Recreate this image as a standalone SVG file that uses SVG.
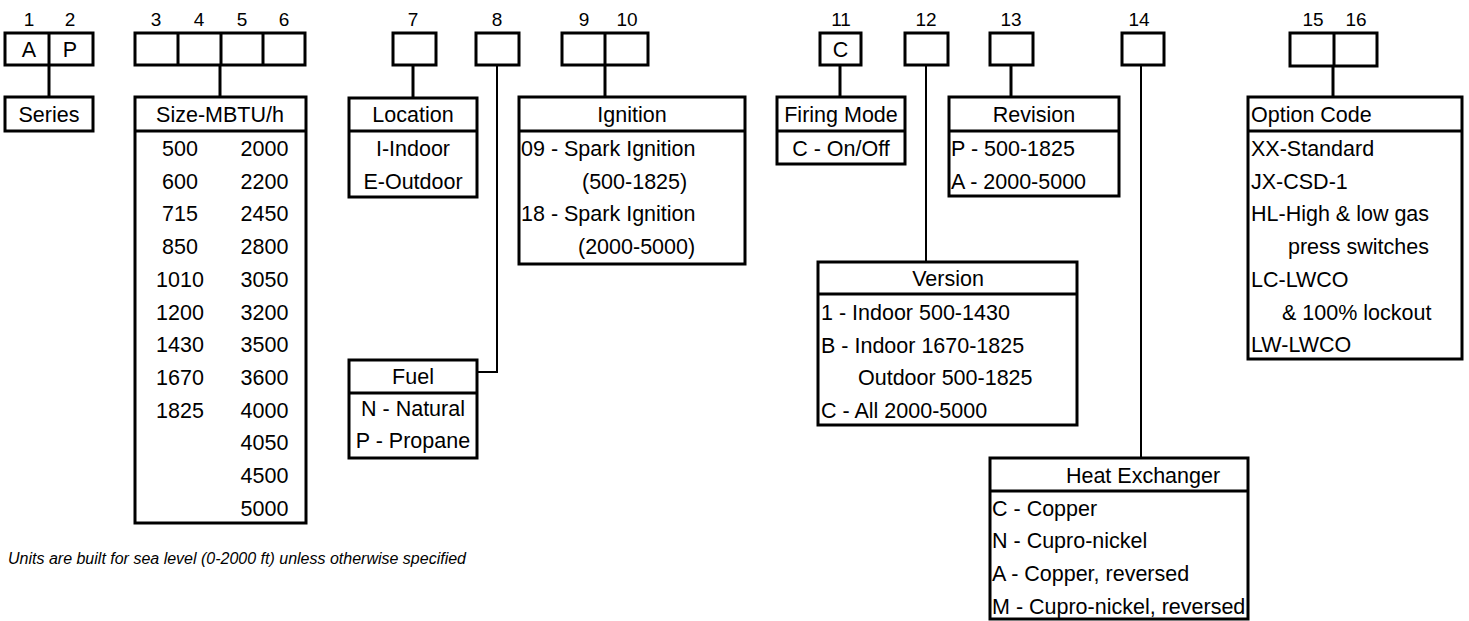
<svg xmlns="http://www.w3.org/2000/svg" width="1469" height="621" viewBox="0 0 1469 621">
<style>
.b{fill:#fff;stroke:#000;stroke-width:3}
.d{stroke:#000;stroke-width:3;fill:none}
.c1{stroke:#000;stroke-width:3;fill:none}
.c2{stroke:#000;stroke-width:2;fill:none}
text{font-family:"Liberation Sans",Arial,sans-serif;font-size:21.5px;fill:#000}
.m{text-anchor:middle}
.n{font-size:19px;text-anchor:middle}
.note{font-size:16px;font-style:italic}
</style>
<rect width="1469" height="621" fill="#fff"/>
<g id="connectors">
<line class="c1" x1="49" y1="65" x2="49" y2="97"/>
<line class="c1" x1="220" y1="65" x2="220" y2="97"/>
<line class="c1" x1="413" y1="65" x2="413" y2="98"/>
<polyline class="c2" points="497,65 497,372 477,372"/>
<line class="c1" x1="605" y1="65" x2="605" y2="97"/>
<line class="c1" x1="840" y1="65" x2="840" y2="97"/>
<line class="c2" x1="926" y1="65" x2="926" y2="262"/>
<line class="c1" x1="1011" y1="65" x2="1011" y2="97"/>
<line class="c2" x1="1141" y1="65" x2="1141" y2="458"/>
<line class="c1" x1="1333" y1="66" x2="1333" y2="97"/>
</g>
<g id="labels">
<text class="n" x="29" y="26">1</text>
<text class="n" x="70" y="26">2</text>
<text class="n" x="156" y="26">3</text>
<text class="n" x="199" y="26">4</text>
<text class="n" x="242" y="26">5</text>
<text class="n" x="284" y="26">6</text>
<text class="n" x="413" y="26">7</text>
<text class="n" x="497" y="26">8</text>
<text class="n" x="584" y="26">9</text>
<text class="n" x="627" y="26">10</text>
<text class="n" x="841" y="26">11</text>
<text class="n" x="926" y="26">12</text>
<text class="n" x="1011" y="26">13</text>
<text class="n" x="1139" y="26">14</text>
<text class="n" x="1313" y="26">15</text>
<text class="n" x="1356" y="26">16</text>
</g>
<g id="code-1-2">
<rect class="b" x="5" y="33" width="88" height="32"/>
<line class="d" x1="49" y1="33" x2="49" y2="65"/>
<text class="m" x="29" y="56.5">A</text>
<text class="m" x="70" y="56.5">P</text>
</g>
<g id="code-3-6">
<rect class="b" x="135" y="33" width="170" height="32"/>
<line class="d" x1="178" y1="33" x2="178" y2="65"/>
<line class="d" x1="221" y1="33" x2="221" y2="65"/>
<line class="d" x1="263" y1="33" x2="263" y2="65"/>
</g>
<g id="code-7"><rect class="b" x="393" y="33" width="43" height="32"/></g>
<g id="code-8"><rect class="b" x="476" y="33" width="43" height="32"/></g>
<g id="code-9-10">
<rect class="b" x="562" y="33" width="86" height="32"/>
<line class="d" x1="605" y1="33" x2="605" y2="65"/>
</g>
<g id="code-11">
<rect class="b" x="820" y="33" width="41" height="32"/>
<text class="m" x="840.5" y="56.5">C</text>
</g>
<g id="code-12"><rect class="b" x="905" y="33" width="43" height="32"/></g>
<g id="code-13"><rect class="b" x="990" y="33" width="43" height="32"/></g>
<g id="code-14"><rect class="b" x="1122" y="33" width="42" height="32"/></g>
<g id="code-15-16">
<rect class="b" x="1290" y="33" width="87" height="33"/>
<line class="d" x1="1334" y1="33" x2="1334" y2="66"/>
</g>

<g id="series">
<rect class="b" x="5" y="97" width="88" height="34"/>
<text class="m" x="49" y="121.5">Series</text>
</g>
<g id="size">
<rect class="b" x="135" y="97" width="171" height="426"/>
<line class="d" x1="135" y1="131" x2="306" y2="131"/>
<text class="m" x="220" y="121.5">Size-MBTU/h</text>
<text class="m" x="180" y="156">500</text>
<text class="m" x="180" y="188.7">600</text>
<text class="m" x="180" y="221.4">715</text>
<text class="m" x="180" y="254.1">850</text>
<text class="m" x="180" y="286.8">1010</text>
<text class="m" x="180" y="319.5">1200</text>
<text class="m" x="180" y="352.2">1430</text>
<text class="m" x="180" y="384.9">1670</text>
<text class="m" x="180" y="417.6">1825</text>
<text class="m" x="264.5" y="156">2000</text>
<text class="m" x="264.5" y="188.7">2200</text>
<text class="m" x="264.5" y="221.4">2450</text>
<text class="m" x="264.5" y="254.1">2800</text>
<text class="m" x="264.5" y="286.8">3050</text>
<text class="m" x="264.5" y="319.5">3200</text>
<text class="m" x="264.5" y="352.2">3500</text>
<text class="m" x="264.5" y="384.9">3600</text>
<text class="m" x="264.5" y="417.6">4000</text>
<text class="m" x="264.5" y="450.3">4050</text>
<text class="m" x="264.5" y="483">4500</text>
<text class="m" x="264.5" y="515.7">5000</text>
</g>
<g id="location">
<rect class="b" x="349" y="98" width="128" height="99"/>
<line class="d" x1="349" y1="131" x2="477" y2="131"/>
<text class="m" x="413" y="121.5">Location</text>
<text class="m" x="413" y="156">I-Indoor</text>
<text class="m" x="413" y="188.7">E-Outdoor</text>
</g>
<g id="fuel">
<rect class="b" x="349" y="360" width="128" height="98"/>
<line class="d" x1="349" y1="393" x2="477" y2="393"/>
<text class="m" x="413" y="383.5">Fuel</text>
<text class="m" x="413" y="415.5">N - Natural</text>
<text class="m" x="413" y="447.5">P - Propane</text>
</g>
<g id="ignition">
<rect class="b" x="519" y="97" width="226" height="167"/>
<line class="d" x1="519" y1="131" x2="745" y2="131"/>
<text class="m" x="632" y="121.5">Ignition</text>
<text x="521" y="156">09 - Spark Ignition</text>
<text x="582" y="188.7">(500-1825)</text>
<text x="521" y="221.4">18 - Spark Ignition</text>
<text x="578" y="254.1">(2000-5000)</text>
</g>
<g id="firing-mode">
<rect class="b" x="777" y="97" width="128" height="67"/>
<line class="d" x1="777" y1="131" x2="905" y2="131"/>
<text class="m" x="841" y="121.5">Firing Mode</text>
<text class="m" x="841" y="156">C - On/Off</text>
</g>
<g id="revision">
<rect class="b" x="949" y="97" width="170" height="99"/>
<line class="d" x1="949" y1="131" x2="1119" y2="131"/>
<text class="m" x="1034" y="121.5">Revision</text>
<text x="951" y="156">P - 500-1825</text>
<text x="951" y="188.7">A - 2000-5000</text>
</g>
<g id="version">
<rect class="b" x="818" y="262" width="259" height="163"/>
<line class="d" x1="818" y1="294" x2="1077" y2="294"/>
<text class="m" x="948" y="285.5">Version</text>
<text x="821" y="319.5">1 - Indoor 500-1430</text>
<text x="821" y="352.5">B - Indoor 1670-1825</text>
<text x="858" y="384.5">Outdoor 500-1825</text>
<text x="821" y="417.5">C - All 2000-5000</text>
</g>
<g id="heat-exchanger">
<rect class="b" x="990" y="458" width="258" height="161"/>
<line class="d" x1="990" y1="491" x2="1248" y2="491"/>
<text class="m" x="1143" y="482.5">Heat Exchanger</text>
<text x="992" y="515.5">C - Copper</text>
<text x="992" y="547.5">N - Cupro-nickel</text>
<text x="992" y="580.5">A - Copper, reversed</text>
<text x="992" y="614">M - Cupro-nickel, reversed</text>
</g>
<g id="option-code">
<rect class="b" x="1248" y="97" width="214" height="262"/>
<line class="d" x1="1248" y1="131" x2="1462" y2="131"/>
<text x="1251" y="121.5">Option Code</text>
<text x="1251" y="156">XX-Standard</text>
<text x="1251" y="188.7">JX-CSD-1</text>
<text x="1251" y="221.4">HL-High &amp; low gas</text>
<text x="1288" y="254.1">press switches</text>
<text x="1251" y="286.8">LC-LWCO</text>
<text x="1282" y="319.5">&amp; 100% lockout</text>
<text x="1251" y="352.2">LW-LWCO</text>
</g>
<text class="note" x="8" y="564">Units are built for sea level (0-2000 ft) unless otherwise specified</text>
</svg>
